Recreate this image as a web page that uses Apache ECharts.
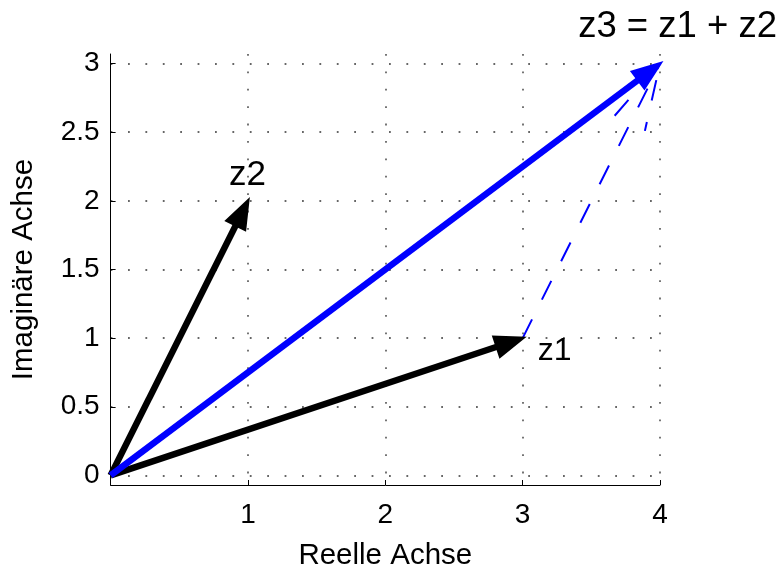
<!DOCTYPE html>
<html>
<head>
<meta charset="utf-8">
<script src="https://cdn.jsdelivr.net/npm/echarts@6/dist/echarts.min.js"></script>
<style>
  html, body { margin: 0; padding: 0; background: #ffffff; }
  #chart { width: 784px; height: 568px; }
</style>
</head>
<body>
<div id="chart"></div>
<script>
// Vectors in the complex plane, all starting at the origin
const vectorNames = ['z1', 'z2', 'z3'];
const vectorTips = [[3, 1], [1, 2], [4, 3]];
const vectorLabels = ['z1', 'z2', 'z3 = z1 + z2'];

// z2 shifted to the tip of z1 (parallelogram rule), drawn dashed
const shiftedShaft = [[3, 1], [4, 3]];
const shiftedHead = [[3.67, 2.62], [4, 3], [3.89, 2.51]];

// Axis ranges and ticks
const xRange = [0, 4];
const yRange = [-0.07, 3.07];
const xTicks = [1, 2, 3, 4];
const yTicks = [0, 0.5, 1, 1.5, 2, 2.5, 3];
const yTickLabels = ['0', '0.5', '1', '1.5', '2', '2.5', '3'];

const FONT = '"Liberation Sans", Arial, Helvetica, sans-serif';
const BLACK = '#000000';
const BLUE = '#0000ff';

// Arrow: thick shaft plus filled triangular head, in pixel space
function arrowItem(params, api) {
  const p0 = api.coord([api.value(0), api.value(1)]);
  const p1 = api.coord([api.value(2), api.value(3)]);
  const dx = p1[0] - p0[0], dy = p1[1] - p0[1];
  const len = Math.hypot(dx, dy);
  const ux = dx / len, uy = dy / len;
  const headLen = 27, headHalf = 10;
  const bx = p1[0] - ux * headLen, by = p1[1] - uy * headLen;
  const color = api.visual('color');
  return {
    type: 'group',
    children: [
      {
        type: 'line',
        shape: { x1: p0[0], y1: p0[1], x2: bx + ux * 3, y2: by + uy * 3 },
        style: { stroke: color, lineWidth: 6.5, lineCap: 'butt' }
      },
      {
        type: 'polygon',
        shape: { points: [[p1[0], p1[1]], [bx - uy * headHalf, by + ux * headHalf], [bx + uy * headHalf, by - ux * headHalf]] },
        style: { fill: color, stroke: color, lineWidth: 3, lineJoin: 'miter' }
      }
    ]
  };
}

// Text labels next to the vector tips (pixel offsets from the tip)
const labelOffsets = [[15, 13, 'left'], [-19, -26, 'left'], [117, -37, 'right']];
const labelSizes = [32, 35, 36.5];
function labelItem(params, api) {
  const i = params.dataIndex;
  const p = api.coord([api.value(0), api.value(1)]);
  const off = labelOffsets[i];
  return {
    type: 'text',
    x: p[0] + off[0],
    y: p[1] + off[1],
    style: {
      text: vectorLabels[i],
      fill: BLACK,
      font: labelSizes[i] + 'px ' + FONT,
      align: off[2],
      verticalAlign: 'middle'
    }
  };
}

const chart = echarts.init(document.getElementById('chart'), null, { renderer: 'canvas' });

const gridDots = { color: '#666666', width: 1.8, type: [1.8, 15.6] };

chart.setOption({
  backgroundColor: '#ffffff',
  animation: false,
  grid: { left: 110.6, right: 124, top: 54, bottom: 83, outerBoundsMode: 'none', containLabel: false },
  xAxis: {
    type: 'value',
    min: xRange[0],
    max: xRange[1],
    name: 'Reelle Achse',
    nameLocation: 'middle',
    nameGap: 56,
    nameTextStyle: { color: BLACK, fontSize: 29.5, fontFamily: FONT },
    axisLine: { show: true, onZero: false, lineStyle: { color: BLACK, width: 1 } },
    axisTick: { show: true, inside: true, length: 5, customValues: xTicks, lineStyle: { color: BLACK } },
    axisLabel: { customValues: xTicks, color: BLACK, fontSize: 28, fontFamily: FONT, margin: 16 },
    splitLine: { show: true, lineStyle: gridDots }
  },
  yAxis: {
    type: 'value',
    min: yRange[0],
    max: yRange[1],
    name: 'Imaginäre Achse',
    nameLocation: 'middle',
    nameRotate: 90,
    nameGap: 72,
    nameTextStyle: { color: BLACK, fontSize: 29.5, fontFamily: FONT },
    axisLine: { show: true, onZero: false, lineStyle: { color: BLACK, width: 1 } },
    axisTick: { show: true, inside: true, length: 5, customValues: yTicks, lineStyle: { color: BLACK } },
    axisLabel: {
      customValues: yTicks,
      color: BLACK, fontSize: 28, fontFamily: FONT, margin: 11,
      formatter: v => yTickLabels[yTicks.indexOf(v)]
    },
    splitLine: { show: true, lineStyle: gridDots }
  },
  series: [
    {
      name: 'z2 verschoben',
      type: 'line',
      data: shiftedShaft,
      symbol: 'none',
      lineStyle: { color: BLUE, width: 2, type: [21, 22] },
      z: 2
    },
    {
      name: 'Pfeilspitze',
      type: 'line',
      data: shiftedHead,
      symbol: 'none',
      lineStyle: { color: BLUE, width: 2, type: [21, 22] },
      z: 2
    },
    {
      name: 'z1, z2',
      type: 'custom',
      renderItem: arrowItem,
      itemStyle: { color: BLACK },
      data: [[0, 0, vectorTips[0][0], vectorTips[0][1]], [0, 0, vectorTips[1][0], vectorTips[1][1]]],
      z: 3
    },
    {
      name: 'z3',
      type: 'custom',
      renderItem: arrowItem,
      itemStyle: { color: BLUE },
      data: [[0, 0, vectorTips[2][0], vectorTips[2][1]]],
      z: 4
    },
    {
      name: 'Beschriftung',
      type: 'custom',
      renderItem: labelItem,
      data: vectorTips,
      z: 5
    }
  ]
});
</script>
</body>
</html>
